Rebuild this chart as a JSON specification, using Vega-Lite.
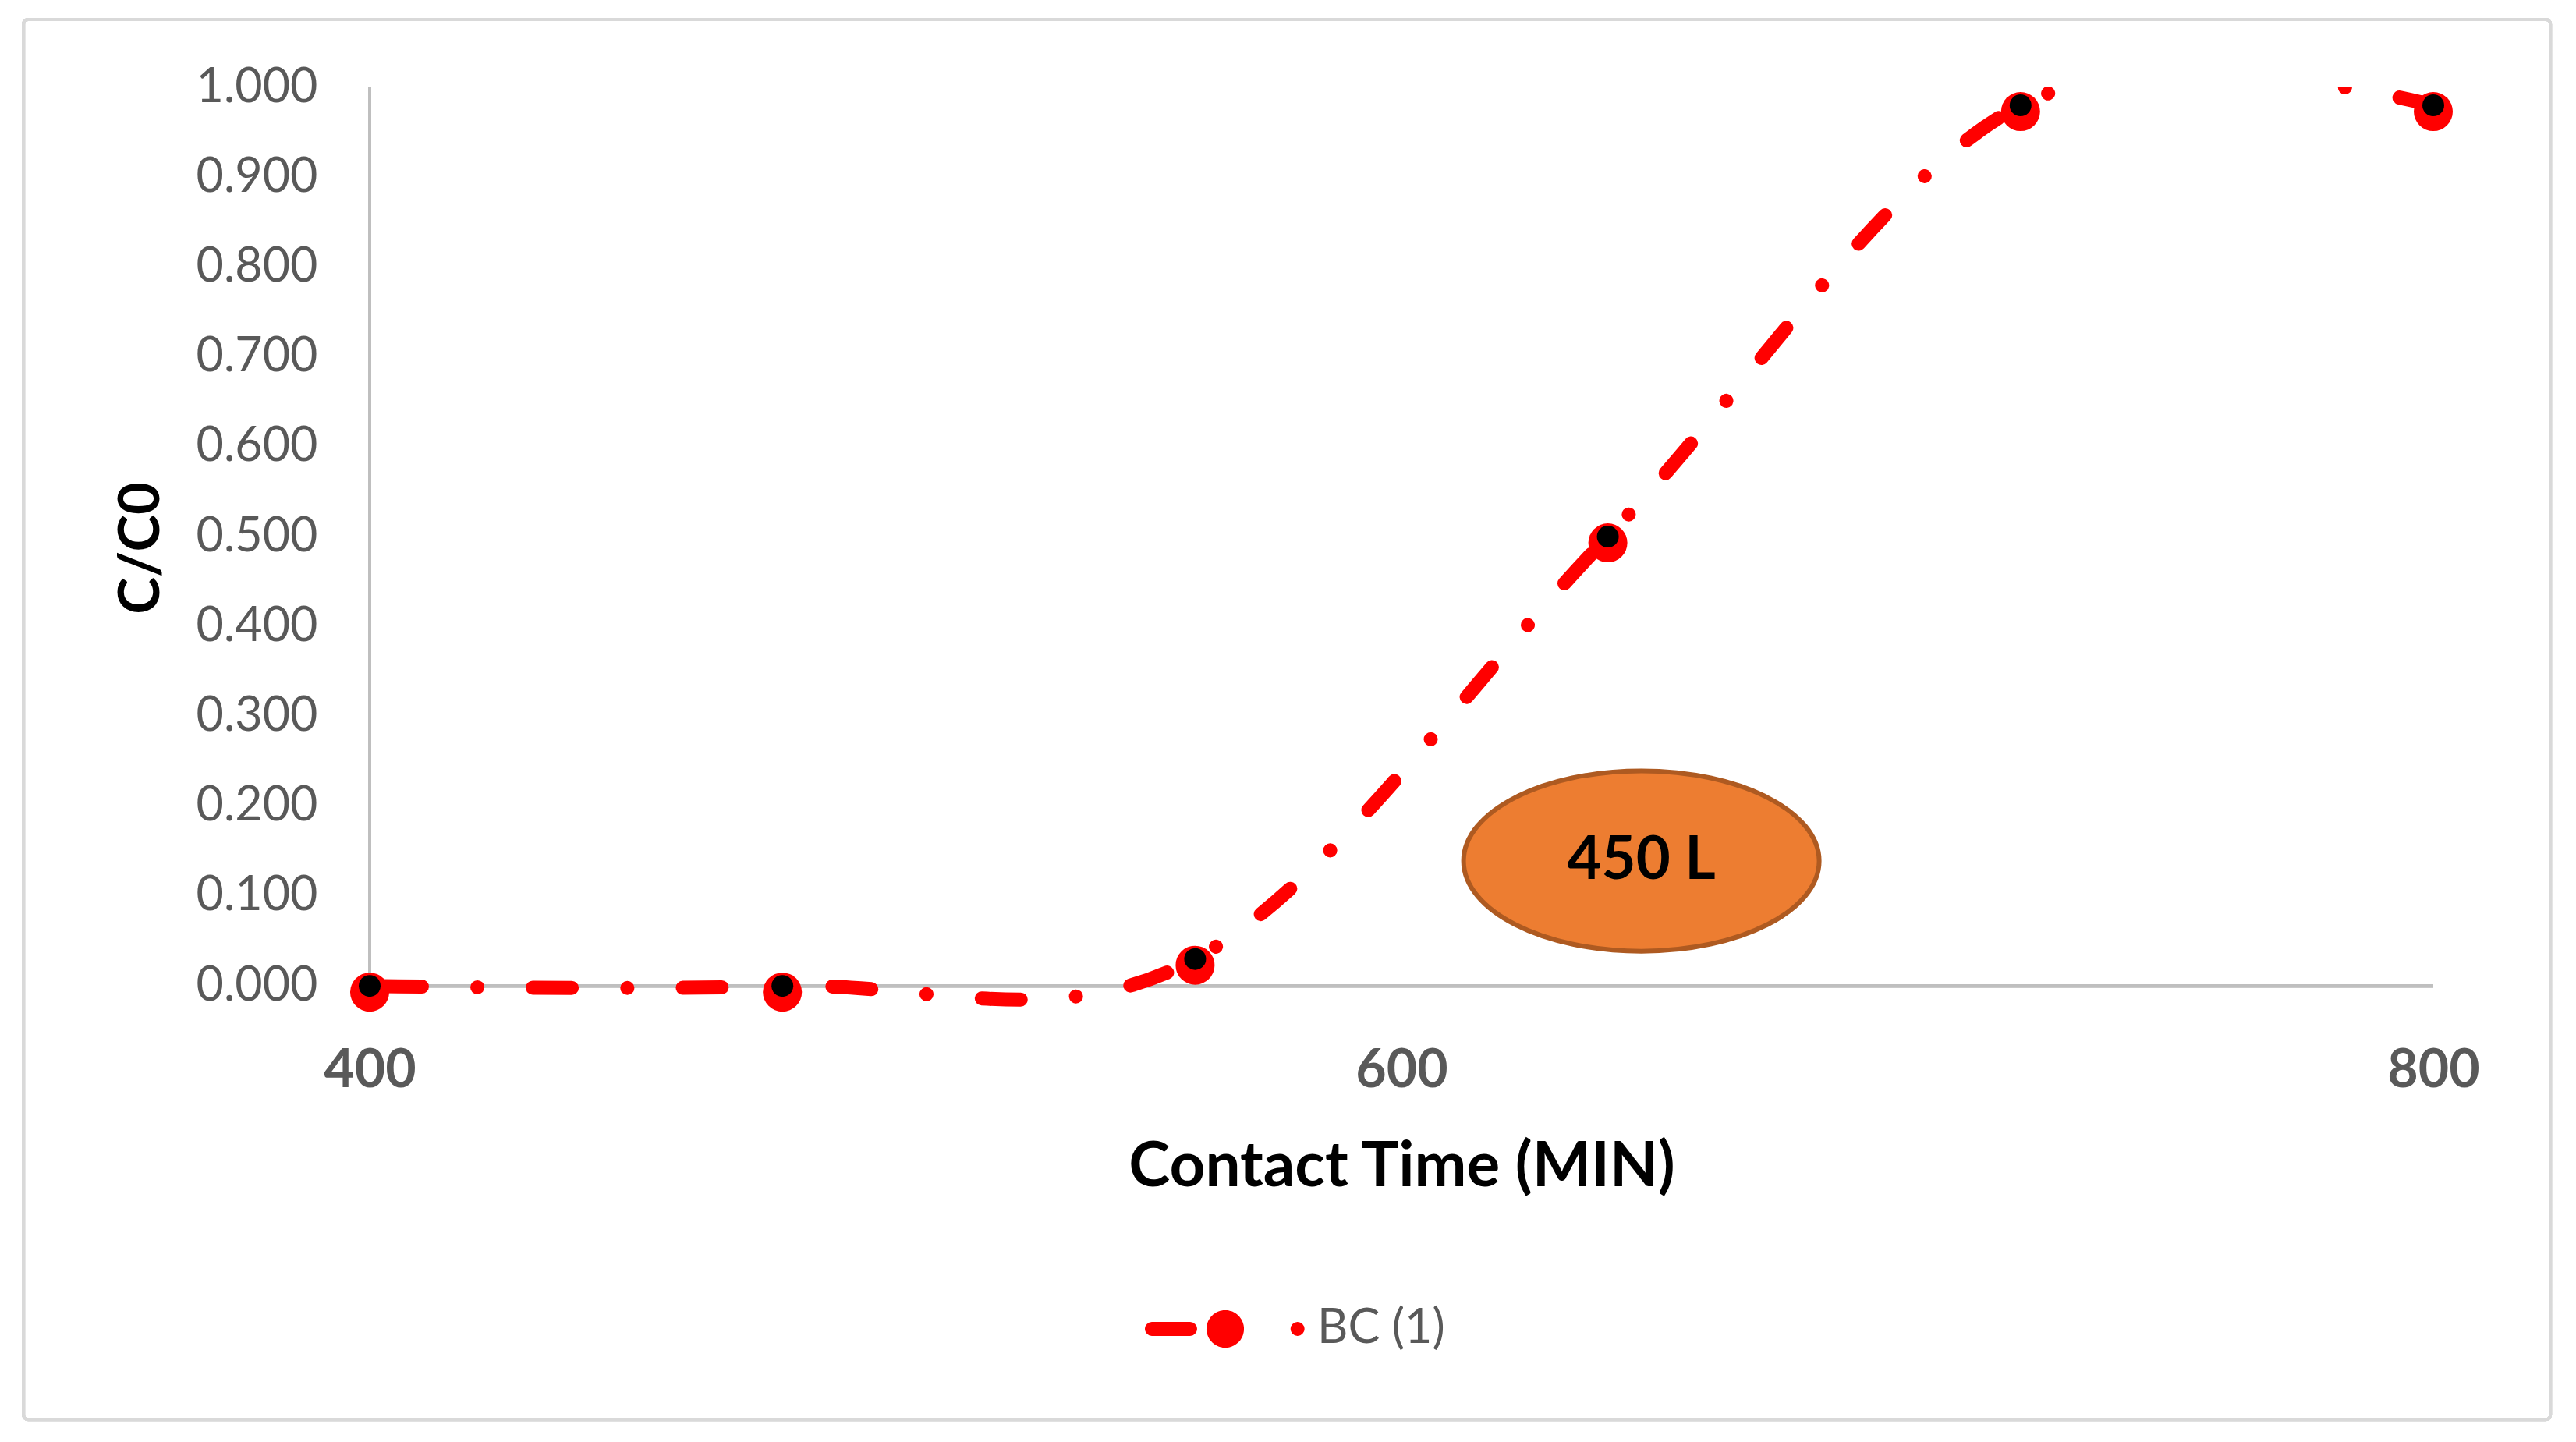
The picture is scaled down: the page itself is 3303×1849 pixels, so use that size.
{
  "$schema": "https://vega.github.io/schema/vega-lite/v6.json",
  "width": 2646,
  "height": 1181,
  "autosize": {"type": "none"},
  "padding": {"left": 474, "top": 112, "right": 183, "bottom": 556},
  "background": "#FFFFFF",
  "config": {
    "font": "Lato",
    "view": {"stroke": null},
    "axis": {"domain": false, "ticks": false, "grid": false, "labelFont": "Lato", "labelColor": "#595959", "titleFont": "Lato", "titleFontWeight": "bold", "titleColor": "#000000"},
    "axisX": {"labelFontSize": 68, "labelFontWeight": "bold", "labelPadding": 46, "labelFlush": false, "titleFontSize": 80, "titlePadding": 50},
    "axisY": {"labelFontSize": 61, "labelPadding": 67, "titleFontSize": 72, "titlePadding": 56}
  },
  "datasets": {
    "bc": [
      {"time": 400, "ratio": 0, "series": "BC (1)"},
      {"time": 480, "ratio": 0, "series": "BC (1)"},
      {"time": 560, "ratio": 0.03, "series": "BC (1)"},
      {"time": 640, "ratio": 0.5, "series": "BC (1)"},
      {"time": 720, "ratio": 0.98, "series": "BC (1)"},
      {"time": 800, "ratio": 0.98, "series": "BC (1)"}
    ],
    "note": [
      {"time": 646.5, "ratio": 0.139, "label": "450 L"}
    ]
  },
  "data": {"name": "bc"},
  "layer": [
    {
      "mark": {"type": "rect", "fillOpacity": 0, "stroke": "#D9D9D9", "strokeWidth": 4, "cornerRadius": 6, "clip": false},
      "encoding": {
        "x": {"datum": 332.9, "type": "quantitative", "scale": {"domain": [400, 800], "nice": false, "zero": false}, "title": "Contact Time (MIN)", "axis": {"values": [400, 600, 800], "format": "d"}},
        "x2": {"datum": 822.7},
        "y": {"datum": 1.0755, "type": "quantitative", "scale": {"domain": [-0.025, 1], "nice": false, "zero": false}, "title": "C/C0", "axis": {"values": [0, 0.1, 0.2, 0.3, 0.4, 0.5, 0.6, 0.7, 0.8, 0.9, 1.0], "format": ".3f"}},
        "y2": {"datum": -0.4826}
      }
    },
    {
      "mark": {"type": "rule", "color": "#BFBFBF", "strokeWidth": 4},
      "encoding": {
        "x": {"datum": 400, "type": "quantitative", "title": "Contact Time (MIN)"},
        "y": {"datum": 0, "type": "quantitative", "title": "C/C0"},
        "y2": {"datum": 1}
      }
    },
    {
      "mark": {"type": "rule", "color": "#BFBFBF", "strokeWidth": 4},
      "encoding": {
        "y": {"datum": 0, "type": "quantitative", "title": "C/C0"},
        "x": {"datum": 400, "type": "quantitative", "title": "Contact Time (MIN)"},
        "x2": {"datum": 800}
      }
    },
    {
      "mark": {
        "type": "line",
        "interpolate": "cardinal",
        "strokeWidth": 18,
        "strokeDash": [50, 71, 0.1, 71],
        "strokeDashOffset": 175,
        "strokeCap": "round",
        "clip": true
      },
      "encoding": {
        "x": {"field": "time", "type": "quantitative", "title": "Contact Time (MIN)"},
        "y": {"field": "ratio", "type": "quantitative", "title": "C/C0"},
        "color": {
          "field": "series",
          "type": "nominal",
          "scale": {"domain": ["BC (1)"], "range": ["#FF0000"]},
          "legend": {
            "title": null,
            "orient": "none",
            "legendX": 985,
            "legendY": 1480,
            "padding": 0,
            "symbolType": "M -0.913 0 H -0.437 M 0.146 0 A 0.146 0.146 0 1 1 -0.146 0 A 0.146 0.146 0 1 1 0.146 0 Z M 0.9 0 H 0.9001",
            "symbolSize": 42436,
            "symbolStrokeWidth": 18,
            "symbolFillColor": "#FF0000",
            "symbolStrokeColor": "#FF0000",
            "labelFont": "Lato",
            "labelFontSize": 61,
            "labelColor": "#595959",
            "labelOffset": 6,
            "labelLimit": 0,
            "encode": {
              "symbols": {
                "update": {
                  "fill": {"value": "#FF0000"},
                  "stroke": {"value": "#FF0000"},
                  "strokeCap": {"value": "round"},
                  "strokeDash": {"value": [1, 0]},
                  "opacity": {"value": 1}
                }
              }
            }
          }
        }
      }
    },
    {
      "mark": {"type": "point", "shape": "circle", "filled": true, "size": 2500, "color": "#FF0000", "opacity": 1, "yOffset": 8},
      "encoding": {
        "x": {"field": "time", "type": "quantitative", "title": "Contact Time (MIN)"},
        "y": {"field": "ratio", "type": "quantitative", "title": "C/C0"}
      }
    },
    {
      "mark": {"type": "point", "shape": "circle", "filled": true, "size": 784, "color": "#000000", "opacity": 1},
      "encoding": {
        "x": {"field": "time", "type": "quantitative", "title": "Contact Time (MIN)"},
        "y": {"field": "ratio", "type": "quantitative", "title": "C/C0"}
      }
    },
    {
      "data": {"name": "note"},
      "mark": {
        "type": "point",
        "shape": "M -1 0 A 1 0.507 0 1 0 1 0 A 1 0.507 0 1 0 -1 0 Z",
        "size": 207936,
        "filled": true,
        "fill": "#ED7D31",
        "stroke": "#AE5A21",
        "strokeWidth": 6,
        "opacity": 1
      },
      "encoding": {
        "x": {"field": "time", "type": "quantitative", "title": "Contact Time (MIN)"},
        "y": {"field": "ratio", "type": "quantitative", "title": "C/C0"}
      }
    },
    {
      "data": {"name": "note"},
      "mark": {"type": "text", "font": "Lato", "fontSize": 76, "fontWeight": "bold", "color": "#000000", "align": "center", "baseline": "middle"},
      "encoding": {
        "x": {"field": "time", "type": "quantitative", "title": "Contact Time (MIN)"},
        "y": {"field": "ratio", "type": "quantitative", "title": "C/C0"},
        "text": {"field": "label"}
      }
    }
  ]
}
